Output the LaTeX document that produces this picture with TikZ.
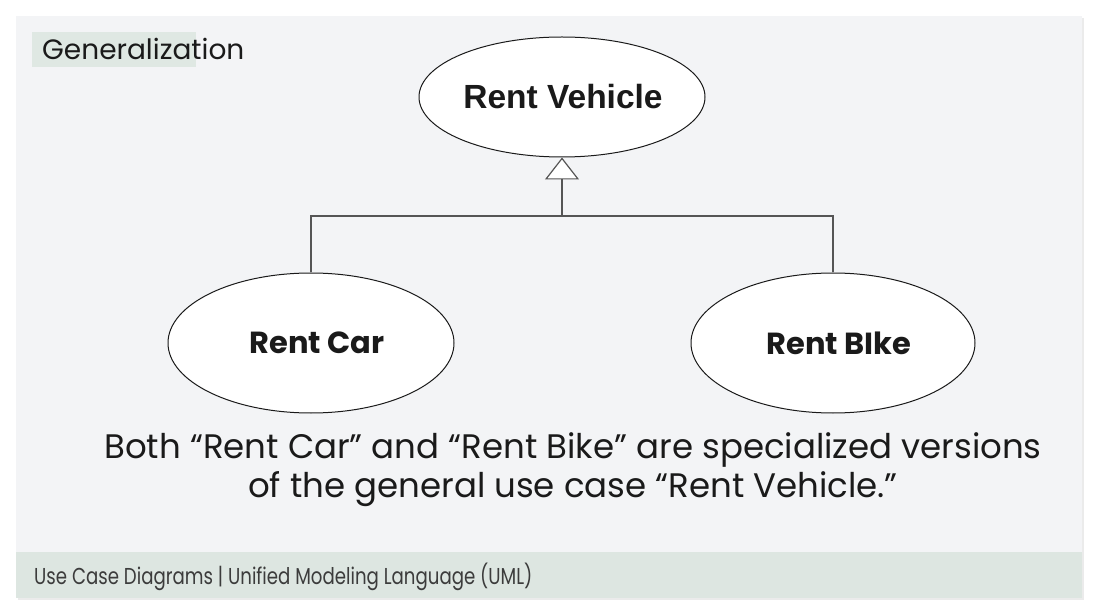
\documentclass[tikz,border=0pt]{standalone}
\usepackage{fontspec}
\setmainfont{Poppins}
\newfontfamily\arialf{Liberation Sans}
\usetikzlibrary{shapes.geometric,arrows.meta}
\definecolor{panel}{HTML}{F3F4F6}
\definecolor{band}{HTML}{DDE6E1}
\definecolor{tag}{HTML}{DFE8E3}
\definecolor{ink}{HTML}{1A1A1A}
\definecolor{edge}{HTML}{555555}
\tikzset{
  usecase/.style={ellipse,draw=ink,line width=1pt,fill=white,inner sep=0pt},
  rel/.style={draw=edge,line width=1.2pt},
  gen/.style={draw=edge,line width=1.2pt,-{Triangle[open,fill=white,length=22pt,width=34pt,line width=1.2pt]}}
}
\begin{document}
\begin{tikzpicture}[x=1pt,y=-1pt]
\useasboundingbox (0,0) rectangle (1098,612);
\fill[white] (0,0) rectangle (1098,612);
\fill[black!8] (18,18) rectangle (1084,600);
\fill[panel] (16,16) rectangle (1082,598);
\fill[band] (16,552) rectangle (1082,598);
\fill[tag] (32,32) rectangle (196,67);
\node[anchor=west,text=ink,inner sep=0pt,font=\fontsize{28}{32}\selectfont] (title) at (42,49) {Generalization};
\node[usecase,minimum width=286pt,minimum height=120pt] (veh) at (562,97) {};
\node[text=ink,font=\arialf\bfseries\fontsize{33.5}{38}\selectfont] (vehl) at (563,97) {Rent Vehicle};
\node[usecase,minimum width=286pt,minimum height=140pt] (car) at (311,343) {};
\node[text=ink,font=\bfseries\fontsize{30.5}{36}\selectfont] (carl) at (317,343) {Rent Car};
\node[usecase,minimum width=284pt,minimum height=140pt] (bike) at (833,343) {};
\node[text=ink,font=\bfseries\fontsize{30.5}{36}\selectfont] (bikel) at (839,343) {Rent BIke};
\coordinate (j) at (562,216);
\draw[rel] (car.north) |- (j);
\draw[rel] (bike.north) |- (j);
\draw[gen] (j) -- (veh.south);
\node[text=ink,align=center,font=\fontsize{34}{39}\selectfont] (desc) at (573,470) {Both “Rent Car” and “Rent Bike” are specialized versions\\of the general use case “Rent Vehicle.”};
\node[anchor=west,text=ink!85,inner sep=0pt,font=\fontsize{23}{27}\selectfont] (foot) at (34,577) {\scalebox{0.79}[1]{Use Case Diagrams | Unified Modeling Language (UML)}};
\end{tikzpicture}
\end{document}
